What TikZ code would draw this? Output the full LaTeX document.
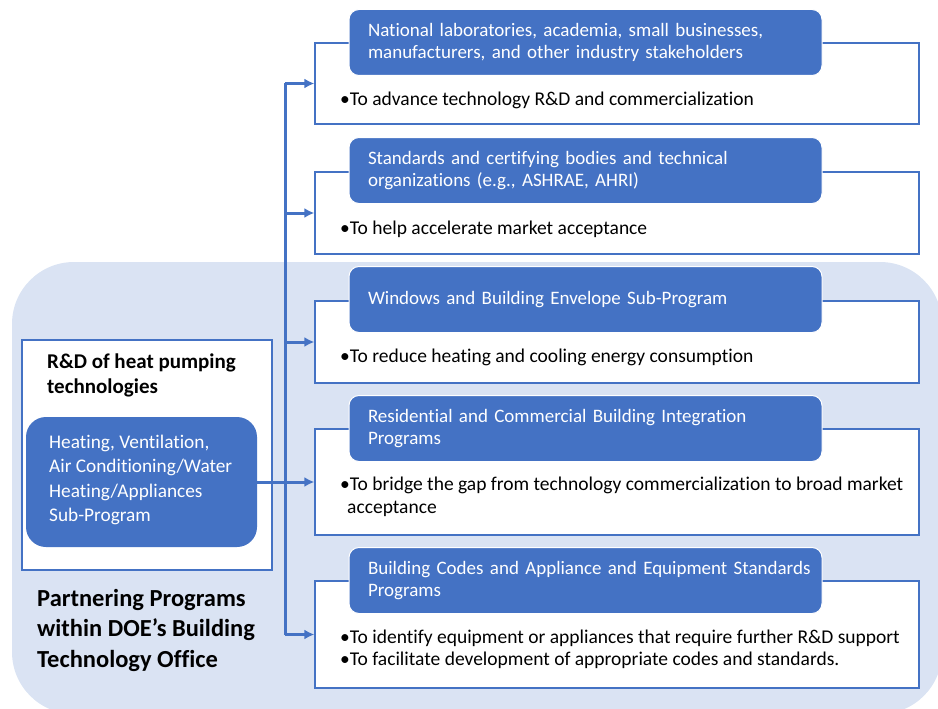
\documentclass[tikz,border=0pt]{standalone}
\usepackage{fontspec}
\setmainfont{Carlito}[Ligatures=NoCommon]
\usepackage{tikz}
\usetikzlibrary{arrows.meta}
\usepackage{color}
\hyphenpenalty=10000
\definecolor{Accent-1}{RGB}{68,114,196}
\definecolor{Accent-1-lt}{RGB}{218,227,243}
\tikzset{ prog/.style={draw=Accent-1, line width=1.3pt, fill=white, minimum width=604pt, minimum height=82pt, inner sep=0pt                                              } }
\tikzset{ lbl/.style ={draw=white,    line width=1pt,   fill=Accent-1, rounded corners=10pt, minimum height=66pt, text width=447pt, inner xsep=13pt, inner ysep=0pt, align=left, text=white, font=\fontsize{19}{22.5}\selectfont} }
\tikzset{ txt/.style ={anchor=west, inner sep=0pt, align=left, text=black, font=\fontsize{19.5}{22.5}\selectfont                                                                   } }
\tikzset{ flow/.style={draw=Accent-1, line width=3pt                                                                                                                                } }

\begin{document}
\begin{tikzpicture}[x=1pt, y=-1pt]
    \useasboundingbox (0,0) rectangle (938,709);
    \fill[Accent-1-lt, rounded corners=62pt] (12,262) rectangle (942,714);

    \node[prog, minimum height=81pt ] (box_n0) at (617, 83.5) {};
    \node[prog                      ] (box_n1) at (617,213.0) {};
    \node[prog                      ] (box_n2) at (617,342.0) {};
    \node[prog, minimum height=106pt] (box_n3) at (617,482.0) {};
    \node[prog, minimum height=107pt] (box_n4) at (617,634.5) {};

    \node[lbl] (lbl_n0) at (585.5, 42.5) {\hspace*{6pt}National laboratories, academia, small businesses,\\\hspace*{6pt}manufacturers, and other industry stakeholders};
    \node[lbl] (lbl_n1) at (585.5,170.5) {\hspace*{6pt}Standards and certifying bodies and technical\\\hspace*{6pt}organizations (e.g., ASHRAE, AHRI)};
    \node[lbl] (lbl_n2) at (585.5,299.5) {\hspace*{6pt}Windows and Building Envelope Sub-Program};
    \node[lbl] (lbl_n3) at (585.5,428.5) {\hspace*{6pt}Residential and Commercial Building Integration\\\hspace*{6pt}Programs};
    \node[lbl] (lbl_n4) at (585.5,580.5) {\hspace*{6pt}\mbox{Building Codes and Appliance and Equipment Standards}\\\hspace*{6pt}Programs};

    \node[txt] (txt_n0) at (340,100.0) {•To advance technology R\&D and commercialization};
    \node[txt] (txt_n1) at (340,229.0) {•To help accelerate market acceptance};
    \node[txt] (txt_n2) at (340,357.0) {•To reduce heating and cooling energy consumption};
    \node[txt] (txt_n3) at (340,497.0) {•To bridge the gap from technology commercialization to broad market\\\hspace*{7pt}acceptance};
    \node[txt] (txt_n4) at (340,649.5) {•To identify equipment or appliances that require further R\&D support\\•To facilitate development of appropriate codes and standards.};

    % heat pumping R&D program on the left
    \node[draw=Accent-1, line width=1.3pt, fill=white, minimum width=250pt, minimum height=230pt, inner sep=0pt] (rd) at (147,455) {};
    \node[txt, font=\fontsize{21}{25}\selectfont\bfseries] (rd_title) at (47,375) {R\&D of heat pumping\\technologies};
    \node[fill=Accent-1, rounded corners=20pt, minimum width=231pt, minimum height=130pt, inner sep=0pt] (hvac) at (141.5,482) {};
    \node[txt, text=white, font=\fontsize{19.3}{24.5}\selectfont] (hvac_txt) at (49,480) {Heating, Ventilation,\\Air Conditioning/Water\\Heating/Appliances\\Sub-Program};
    \node[txt, font=\fontsize{24.5}{30.5}\selectfont\bfseries] (office) at (37,630) {Partnering Programs\\within DOE’s Building\\Technology Office};

    \coordinate (trunk) at (285,482);
    \draw[flow] (trunk |- box_n0.west) -- (trunk |- box_n4.west);
    \draw[flow] (hvac.east) -- (trunk);

    \draw[->,>={Latex[length=10pt,width=10pt]}, flow] (trunk |- box_n0.west) -- (box_n0.west);
    \draw[->,>={Latex[length=10pt,width=10pt]}, flow] (trunk |- box_n1.west) -- (box_n1.west);
    \draw[->,>={Latex[length=10pt,width=10pt]}, flow] (trunk |- box_n2.west) -- (box_n2.west);
    \draw[->,>={Latex[length=10pt,width=10pt]}, flow] (trunk)                -- (box_n3.west);
    \draw[->,>={Latex[length=10pt,width=10pt]}, flow] (trunk |- box_n4.west) -- (box_n4.west);
  \end{tikzpicture}
\end{document}
